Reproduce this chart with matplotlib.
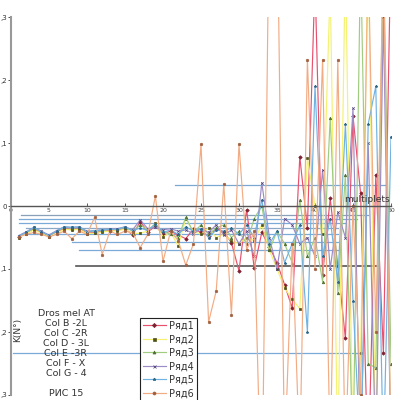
import matplotlib
matplotlib.use('Agg')
import matplotlib.pyplot as plt
import numpy as np

xs = np.arange(1, 51)

r1 = [-0.049,-0.043,-0.037,-0.042,-0.048,-0.041,-0.036,-0.037,-0.036,-0.043,
      -0.042,-0.040,-0.039,-0.038,-0.036,-0.046,-0.025,-0.041,-0.032,-0.044,
      -0.040,-0.046,-0.052,-0.036,-0.042,-0.047,-0.036,-0.041,-0.058,-0.103,
      -0.006,-0.098,-0.042,-0.065,-0.090,-0.125,-0.162, 0.078,-0.035, 0.360,
      -0.110, 0.012,-0.095,-0.210, 0.143, 0.020,-0.420, 0.050,-0.233, 0.420]
r2 = [-0.050,-0.044,-0.038,-0.043,-0.049,-0.043,-0.037,-0.038,-0.037,-0.044,
      -0.043,-0.041,-0.040,-0.039,-0.037,-0.044,-0.043,-0.040,-0.027,-0.049,
      -0.042,-0.063,-0.020,-0.040,-0.045,-0.035,-0.050,-0.045,-0.055,-0.060,
      -0.050,-0.055,-0.030,-0.070,-0.100,-0.130,-0.148,-0.163, 0.076, 0.000,
      -0.045, 0.350,-0.400, 0.400,-0.400,-0.233, 0.400,-0.400, 0.400,-0.400]
r3 = [-0.048,-0.042,-0.035,-0.041,-0.047,-0.040,-0.034,-0.035,-0.034,-0.041,
      -0.040,-0.039,-0.037,-0.037,-0.034,-0.040,-0.030,-0.038,-0.030,-0.040,
      -0.045,-0.050,-0.018,-0.042,-0.030,-0.045,-0.035,-0.030,-0.050,-0.040,
      -0.060,-0.020, 0.000,-0.070,-0.040,-0.060,-0.090, 0.010,-0.080,-0.050,
      -0.120, 0.140,-0.138, 0.050,-0.400, 0.400,-0.250,-0.257, 0.400,-0.250]
r4 = [-0.047,-0.041,-0.034,-0.040,-0.046,-0.039,-0.033,-0.034,-0.033,-0.040,
      -0.039,-0.038,-0.036,-0.036,-0.033,-0.038,-0.022,-0.036,-0.034,-0.038,
      -0.036,-0.040,-0.038,-0.044,-0.036,-0.042,-0.030,-0.046,-0.038,-0.060,
      -0.040,-0.080, 0.037,-0.050,-0.100,-0.020,-0.030,-0.060,-0.050,-0.080,
       0.057,-0.100,-0.010,-0.050, 0.155,-0.400, 0.100,-0.400, 0.300,-0.400]
r5 = [-0.048,-0.042,-0.034,-0.041,-0.047,-0.040,-0.033,-0.034,-0.033,-0.041,
      -0.039,-0.038,-0.037,-0.037,-0.033,-0.039,-0.035,-0.039,-0.028,-0.042,
      -0.038,-0.045,-0.033,-0.040,-0.036,-0.050,-0.038,-0.040,-0.035,-0.045,
      -0.030,-0.050, 0.010,-0.060,-0.040,-0.090,-0.060,-0.030,-0.200, 0.190,
      -0.080,-0.020,-0.120, 0.130,-0.150,-0.400, 0.130, 0.190,-0.400, 0.110]
r6 = [-0.049,-0.045,-0.042,-0.045,-0.049,-0.045,-0.040,-0.052,-0.040,-0.045,
      -0.018,-0.077,-0.040,-0.045,-0.040,-0.042,-0.066,-0.045, 0.016,-0.088,
      -0.040,-0.055,-0.094,-0.060, 0.098,-0.184,-0.135, 0.035,-0.173, 0.098,
      -0.070,-0.040,-0.500, 0.500, 0.500,-0.400,-0.060,-0.400, 0.232,-0.100,
       0.232,-0.400, 0.232,-0.400, 0.000,-0.300, 0.400,-0.200, 0.400,-0.400]

series = [r1, r2, r3, r4, r5, r6]
names = ['Ряд1', 'Ряд2', 'Ряд3', 'Ряд4', 'Ряд5', 'Ряд6']
colors = ['#e8506e', '#f4f270', '#a0cc80', '#9c8cc6', '#70b2e2', '#f2ac84']
mcolors = ['#802030', '#505018', '#4c7030', '#504078', '#306888', '#a06040']
markers = ['D', 's', '^', 'x', '*', 'o']

# horizontal level lines: value, x from, x to
hl_val = [0.033, -0.014, -0.020, -0.027, -0.035, -0.045, -0.057, -0.070, -0.095, -0.233]
hl_x0 = [21.6, 1.3, 1.0, 1.0, 2.0, 1.5, 8.0, 9.0, 8.6, 0.3]
hl_x1 = [49.2, 47.0, 45.5, 44.0, 43.0, 43.0, 43.0, 43.0, 48.3, 46.0]
hl_col = ['#7aa8d0', '#8aa0b8', '#7aaad8', '#7aaad8', '#8aa8c8', '#7aaad8',
          '#7aaad8', '#7aaad8', '#555555', '#7aaad8']

fig = plt.figure(figsize=(4, 4), dpi=100)
ax = fig.add_axes([11/400, 5/400, 380/400, 378/400])

for v, a, b, c in zip(hl_val, hl_x0, hl_x1, hl_col):
    ax.plot([a, b], [v, v], color=c, lw=0.9 if c != '#555555' else 1.2, zorder=1)

for s, n, c, mc, m in zip(series, names, colors, mcolors, markers):
    ax.plot(xs, s, color=c, lw=0.85, marker=m, ms=1.8, mfc=mc, mec=mc,
            mew=0.5, label=n, zorder=2)

ax.set_xlim(0, 50)
ax.set_ylim(-0.3, 0.3)
ax.spines['top'].set_visible(False)
ax.spines['right'].set_visible(False)
ax.spines['bottom'].set_position(('data', 0))
ax.spines['bottom'].set_color('#555555')
ax.spines['bottom'].set_linewidth(1.0)
ax.spines['left'].set_color('#999999')
ax.spines['left'].set_linewidth(1.5)

ax.set_xticks(range(0, 51, 5))
ax.tick_params(axis='x', labelsize=4.5, colors='#444444', length=2, width=0.6,
               direction='in', pad=1.5)
ax.set_yticks([0.3, 0.2, 0.1, 0, -0.1, -0.2, -0.3])
ax.set_yticklabels([',3', ',2', ',1', '0', ',1', ',2', ',3'])
ax.tick_params(axis='y', labelsize=5, colors='#333333', length=2, width=0.6,
               direction='out', pad=1)

ax.text(49.8, 0.003, 'multiplets', fontsize=6.5, ha='right', va='bottom',
        color='#333333', zorder=4)

fig.text(18/400, 1 - 330/400, 'K(N°)', rotation=90, fontsize=6.5,
         ha='center', va='center', color='#333333')
info = ['Dros mel AT', 'Col B -2L', 'Col C -2R', 'Col D - 3L', 'Col E -3R',
        'Col F - X', 'Col G - 4', '', 'РИС 15']
for k, t in enumerate(info):
    fig.text(66/400, 1 - (313 + 10*k)/400, t, fontsize=6.8, ha='center',
             va='center', color='#333333')

leg = fig.legend(loc='upper left', bbox_to_anchor=(135/400, 1 - 313/400),
                 fontsize=7, frameon=True, fancybox=False, edgecolor='#222222',
                 framealpha=1, handlelength=2.4, labelspacing=0.36,
                 borderpad=0.3, handletextpad=0.3, markerscale=1.2)
leg.get_frame().set_linewidth(0.8)
for t in leg.get_texts():
    t.set_color('#333333')

fig.savefig('out.png', dpi=100)
